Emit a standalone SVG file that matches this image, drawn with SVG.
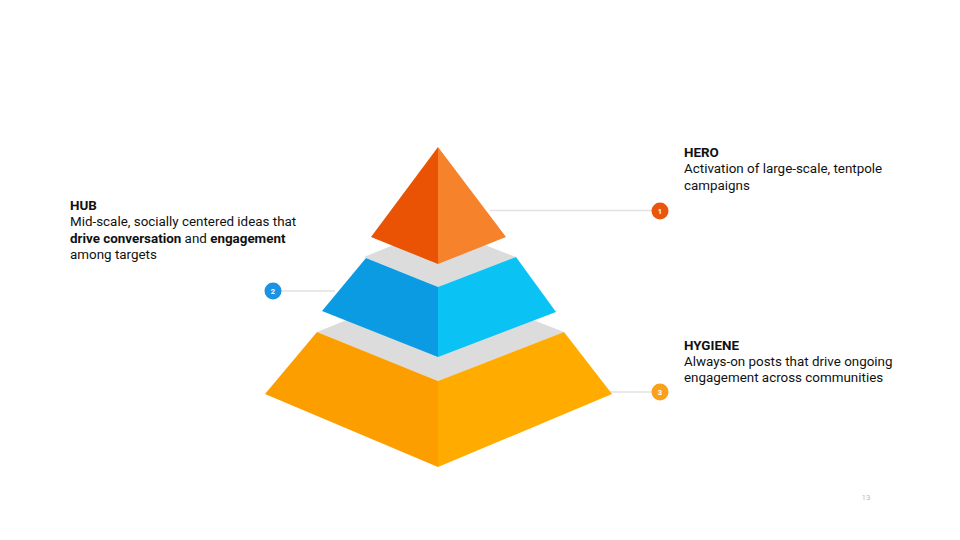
<svg xmlns="http://www.w3.org/2000/svg" width="960" height="540" viewBox="0 0 960 540">
<style>
.t{font-family:Roboto,"Liberation Sans",sans-serif;font-size:13.4px;fill:#111}
.b{font-weight:bold}
.ln{stroke:#e2e2e2;stroke-width:1.5;fill:none}
.num{font-family:Roboto,"Liberation Sans",sans-serif;font-size:7.5px;font-weight:bold;fill:#fff;text-anchor:middle}
.gray{fill:#dcdcdc}
</style>
<rect width="960" height="540" fill="#fff"/>
<g id="connectors">
<line class="ln" x1="490" y1="210.5" x2="652" y2="210.5"/>
<line class="ln" x1="281" y1="291" x2="335" y2="291"/>
<line class="ln" x1="600" y1="392" x2="652" y2="392"/>
</g>
<g id="hygiene-layer">
<polygon class="gray" points="317,332 438,283 564,332 438,381"/>
<polygon fill="#fd9e00" points="317,332 438,381 438,467 265,394"/>
<polygon fill="#ffab00" points="438,381 564,332 612,394 438,467"/>
</g>
<g id="hub-layer">
<polygon class="gray" points="364,257 438,227 516,257 438,287"/>
<polygon fill="#0b9be2" points="366,258 438,287 438,357 322,311"/>
<polygon fill="#0ac3f4" points="438,287 516,257 556,312 438,357"/>
</g>
<g id="hero-layer">
<polygon fill="#ea5304" points="438,147 438,264 371,237"/>
<polygon fill="#f6822c" points="438,147 506,237 438,264"/>
</g>
<g id="badge-1">
<circle cx="660" cy="211" r="8.5" fill="#e9560c"/>
<text class="num" x="660" y="213.7">1</text>
</g>
<g id="badge-2">
<circle cx="273" cy="291" r="8.5" fill="#1a93e2"/>
<text class="num" x="273" y="293.7">2</text>
</g>
<g id="badge-3">
<circle cx="660" cy="392" r="8.5" fill="#f9a11b"/>
<text class="num" x="660" y="394.7">3</text>
</g>
<g id="hub-text">
<text class="t b" x="70" y="210">HUB</text>
<text class="t" x="70" y="226">Mid-scale, socially centered ideas that</text>
<text class="t" x="70" y="243"><tspan class="b">drive conversation</tspan> and <tspan class="b">engagement</tspan></text>
<text class="t" x="70" y="259">among targets</text>
</g>
<g id="hero-text">
<text class="t b" x="684" y="157">HERO</text>
<text class="t" x="684" y="173">Activation of large-scale, tentpole</text>
<text class="t" x="684" y="190">campaigns</text>
</g>
<g id="hygiene-text">
<text class="t b" x="684" y="350">HYGIENE</text>
<text class="t" x="684" y="366">Always-on posts that drive ongoing</text>
<text class="t" x="684" y="382">engagement across communities</text>
</g>
<text x="866" y="500" font-family="Roboto,'Liberation Sans',sans-serif" font-size="8" fill="#bbb" text-anchor="middle">13</text>
</svg>
